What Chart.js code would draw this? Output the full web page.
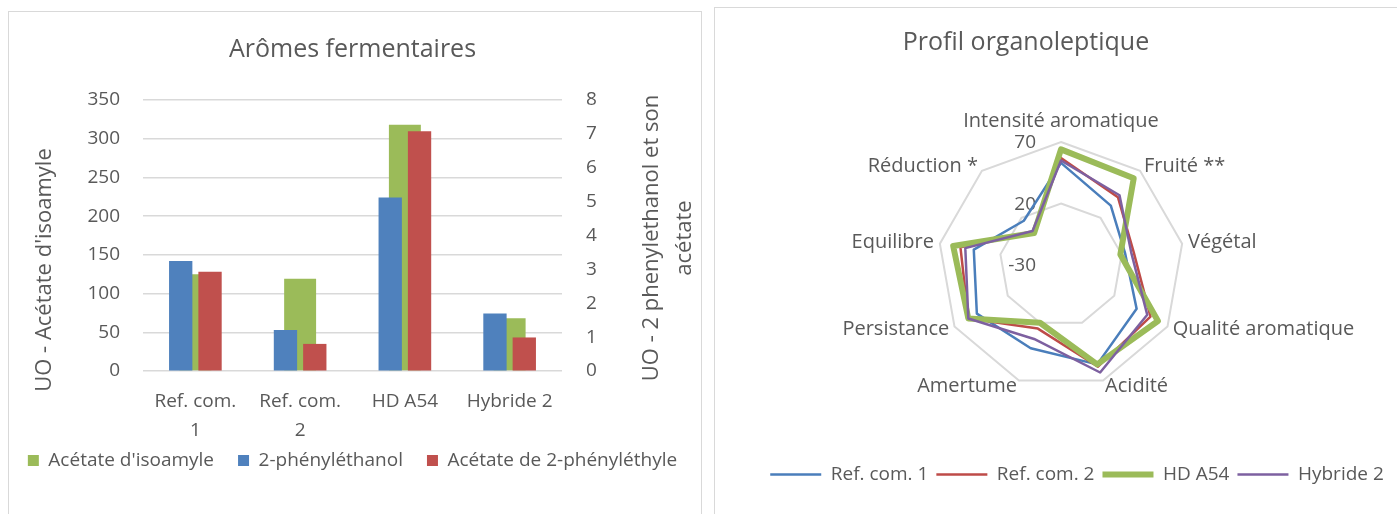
<!DOCTYPE html>
<html>
<head>
<meta charset="utf-8">
<script src="https://cdn.jsdelivr.net/npm/chart.js@4.4.1/dist/chart.umd.min.js"></script>
<style>
  body { margin: 0; background: #fff; overflow: hidden; width: 1397px; height: 514px; position: relative; }
  .panel { position: absolute; border: 1px solid #d9d9d9; box-sizing: border-box; }
  .box { position: absolute; top: 0; height: 514px; }
</style>
</head>
<body>
<div class="panel" style="left:8px; top:11px; width:694px; height:530px;"></div>
<div class="panel" style="left:714px; top:7px; width:700px; height:530px;"></div>
<div class="box" style="left:0; width:705px;"><canvas id="barChart"></canvas></div>
<div class="box" style="left:713px; width:684px;"><canvas id="radarChart"></canvas></div>
<script>
// données - arômes fermentaires
const barCategories = [['Ref. com.', '1'], ['Ref. com.', '2'], 'HD A54', 'Hybride 2'];
const acetateIsoamyle = [125, 119, 318, 68];
const phenylethanol = [3.25, 1.21, 5.12, 1.70];
const acetatePhenylethyle = [2.93, 0.80, 7.08, 0.99];
const leftAxisTicks = [0, 50, 100, 150, 200, 250, 300, 350];
const rightAxisTicks = [0, 1, 2, 3, 4, 5, 6, 7, 8];
const leftAxisTitle = "UO - Acétate d'isoamyle";
const rightAxisTitle = ['UO - 2 phenylethanol et son', 'acétate'];

// données - profil organoleptique
const radarLabels = ['Intensité aromatique', 'Fruité **', 'Végétal', 'Qualité aromatique', 'Acidité',
    'Amertume', 'Persistance', 'Equilibre', 'Réduction *'];
const refCom1 = [53, 33, 23, 41, 56, 42, 49, 42, 17];
const refCom2 = [57, 42, 30, 54, 58, 25, 57, 53, 5];
const hdA54 = [64, 62, 19, 61, 56, 20, 57, 59, 4];
const hybride2 = [55, 44, 28, 51, 63, 34, 57, 49, 6];
const radarTicks = [-30, 20, 70];

const TEXT = '#595959';
const GRID = '#d9d9d9';
const FONT = "'Open Sans', sans-serif";

Chart.defaults.font.family = FONT;
Chart.defaults.color = TEXT;
Chart.defaults.animation = false;

// titres des axes (le titre de droite se lit de bas en haut) et catégories sur deux lignes
const barAxisTitles = {
    id: 'barAxisTitles',
    afterDraw(chart) {
        const ctx = chart.ctx;
        const area = chart.chartArea;
        const xScale = chart.scales.x;
        ctx.save();
        ctx.fillStyle = TEXT;
        ctx.textAlign = 'center';
        ctx.textBaseline = 'middle';

        ctx.font = '19px ' + FONT;
        chart.data.labels.forEach((label, i) => {
            const px = xScale.getPixelForTick(i);
            [].concat(label).forEach((line, j) => ctx.fillText(line, px, area.bottom + 31 + j * 29));
        });

        ctx.font = '22px ' + FONT;
        ctx.save();
        ctx.translate(45, area.top + 170);
        ctx.rotate(-Math.PI / 2);
        ctx.fillText(leftAxisTitle, 0, 0);
        ctx.restore();

        ctx.translate(area.right + 90, area.top + 138);
        ctx.rotate(-Math.PI / 2);
        rightAxisTitle.forEach((line, i) => ctx.fillText(line, 0, i * 33));
        ctx.restore();
    }
};

new Chart(document.getElementById('barChart'), {
    type: 'bar',
    data: {
        labels: barCategories,
        datasets: [{
            label: "Acétate d'isoamyle",
            data: acetateIsoamyle,
            backgroundColor: '#9bbb59',
            yAxisID: 'y',
            grouped: false,
            categoryPercentage: 1,
            barPercentage: 0.305,
            order: 1
        }, {
            label: '2-phényléthanol',
            data: phenylethanol,
            backgroundColor: '#4f81bd',
            yAxisID: 'y2',
            categoryPercentage: 0.56,
            barPercentage: 0.795,
            order: 0
        }, {
            label: 'Acétate de 2-phényléthyle',
            data: acetatePhenylethyle,
            backgroundColor: '#c0504d',
            yAxisID: 'y2',
            categoryPercentage: 0.56,
            barPercentage: 0.795,
            order: 0
        }]
    },
    options: {
        responsive: true,
        maintainAspectRatio: false,
        layout: { padding: { left: 0, right: 0, top: 0, bottom: 34 } },
        plugins: {
            title: {
                display: true,
                text: 'Arômes fermentaires',
                color: TEXT,
                font: { size: 25, weight: 'normal' },
                padding: { top: 35, bottom: 35 }
            },
            legend: {
                position: 'bottom',
                labels: {
                    boxWidth: 11,
                    boxHeight: 11,
                    padding: 24,
                    font: { size: 19 },
                    sort: (a, b) => a.datasetIndex - b.datasetIndex
                }
            },
            tooltip: { enabled: false }
        },
        scales: {
            x: {
                grid: { display: false },
                border: { display: false },
                ticks: { display: false },
                afterFit: s => { s.height = 56; }
            },
            y: {
                position: 'left',
                min: 0,
                max: 350,
                afterBuildTicks: s => { s.ticks = leftAxisTicks.map(v => ({ value: v })); },
                grid: { color: GRID, lineWidth: 1.5, drawTicks: false },
                border: { display: false },
                ticks: { font: { size: 19 }, padding: 23 },
                afterFit: s => { s.width = 143; }
            },
            y2: {
                position: 'right',
                min: 0,
                max: 8,
                afterBuildTicks: s => { s.ticks = rightAxisTicks.map(v => ({ value: v })); },
                grid: { drawOnChartArea: false, drawTicks: false },
                border: { display: false },
                ticks: { font: { size: 19 }, padding: 24 },
                afterFit: s => { s.width = 143; }
            }
        }
    },
    plugins: [barAxisTitles]
});

// titre, étiquettes des axes et graduations du radar
const radarText = {
    id: 'radarText',
    beforeDatasetsDraw(chart) {
        const ctx = chart.ctx;
        const r = chart.scales.r;
        ctx.save();
        ctx.fillStyle = TEXT;

        ctx.font = '25px ' + FONT;
        ctx.textAlign = 'center';
        ctx.textBaseline = 'middle';
        ctx.fillText('Profil organoleptique', 313, 43);

        ctx.font = '19px ' + FONT;
        ctx.textAlign = 'right';
        r.ticks.forEach(t => {
            const d = r.getDistanceFromCenterForValue(t.value);
            ctx.fillText(String(t.value), r.xCenter - 25, r.yCenter - d + 1);
        });

        ctx.font = '20px ' + FONT;
        chart.data.labels.forEach((label, i) => {
            const p = r.getPointPosition(i, r.drawingArea + 6);
            const deg = Math.round(r.getIndexAngle(i) * 180 / Math.PI);
            if (deg === 0) {
                ctx.textAlign = 'center';
                ctx.fillText(label, p.x, p.y - 15);
            } else {
                ctx.textAlign = deg < 180 ? 'left' : 'right';
                ctx.fillText(label, p.x, p.y);
            }
        });
        ctx.restore();
    }
};

function radarSet(label, data, color, width, order) {
    return {
        label: label,
        data: data,
        borderColor: color,
        backgroundColor: color,
        borderWidth: width,
        borderJoinStyle: 'round',
        pointRadius: 0,
        fill: false,
        order: order
    };
}

new Chart(document.getElementById('radarChart'), {
    type: 'radar',
    data: {
        labels: radarLabels,
        datasets: [
            radarSet('Ref. com. 1', refCom1, '#4a7ebb', 2.5, 3),
            radarSet('Ref. com. 2', refCom2, '#be4b48', 2.5, 2),
            radarSet('HD A54', hdA54, '#9bbb59', 6, 1),
            radarSet('Hybride 2', hybride2, '#7d60a0', 2.5, 0)
        ]
    },
    options: {
        responsive: true,
        maintainAspectRatio: false,
        layout: { padding: { left: 44, bottom: 20 } },
        plugins: {
            legend: {
                position: 'bottom',
                labels: {
                    usePointStyle: true,
                    pointStyle: 'line',
                    pointStyleWidth: 51,
                    padding: 8,
                    font: { size: 19 },
                    sort: (a, b) => a.datasetIndex - b.datasetIndex
                }
            },
            tooltip: { enabled: false }
        },
        scales: {
            r: {
                min: -30,
                max: 70,
                afterBuildTicks: s => { s.ticks = radarTicks.map(v => ({ value: v })); },
                ticks: { display: false },
                pointLabels: { display: false },
                angleLines: { display: false },
                grid: { color: GRID, lineWidth: 2 },
                afterFit: s => { s.xCenter = 348; s.yCenter = 265; s.drawingArea = 123; }
            }
        }
    },
    plugins: [radarText]
});
</script>
</body>
</html>
